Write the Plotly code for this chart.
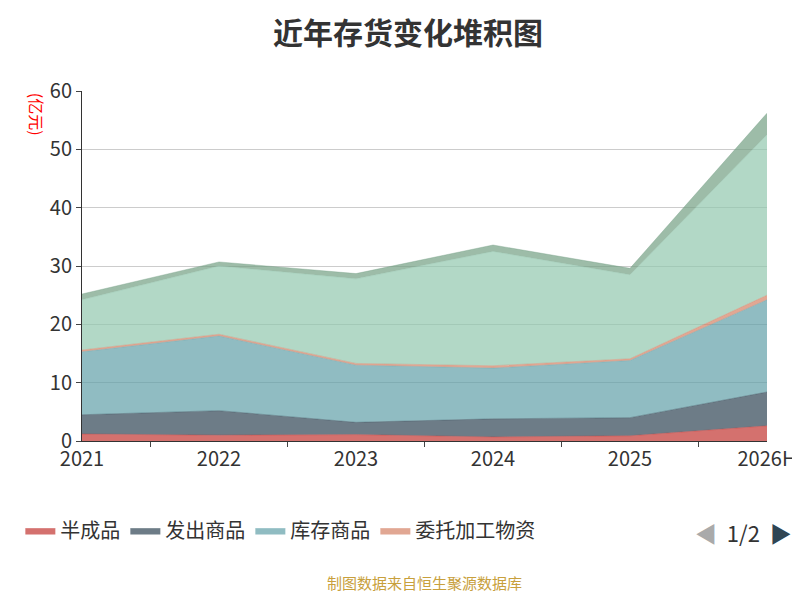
import plotly.graph_objects as go

years = ["2021", "2022", "2023", "2024", "2025", "2026H"]
banchengpin = [1.2, 1.0, 1.1, 0.7, 0.9, 2.6]
fachu = [3.3, 4.2, 2.1, 3.1, 3.1, 5.8]
kucun = [10.8, 12.8, 9.8, 8.7, 9.8, 15.8]
weituo = [0.3, 0.3, 0.3, 0.4, 0.3, 0.8]
yuancailiao = [8.6, 11.7, 14.5, 19.6, 14.4, 27.5]
qita = [1.0, 0.7, 0.9, 1.1, 1.1, 3.7]

series = [
    ("半成品", banchengpin, "rgba(194,53,49,0.7)", True),
    ("发出商品", fachu, "rgba(47,69,84,0.7)", True),
    ("库存商品", kucun, "rgba(97,160,168,0.7)", True),
    ("委托加工物资", weituo, "rgba(212,130,101,0.7)", True),
    ("原材料", yuancailiao, "rgba(145,199,174,0.7)", False),
    ("在产品", qita, "rgba(116,159,131,0.7)", False),
]

fig = go.Figure()
for name, vals, fill_c, show in series:
    fig.add_trace(go.Scatter(
        x=years, y=vals, name=name, stackgroup="one", mode="lines",
        line=dict(color=fill_c, width=0.5), fillcolor=fill_c,
        showlegend=show, legendgroup=name))

fig.update_layout(
    width=800, height=600, plot_bgcolor="white", paper_bgcolor="white",
    font=dict(family="Noto Sans CJK SC", color="#333"),
    title=dict(text="<b>近年存货变化堆积图</b>", x=0.5, y=0.975, yanchor="top",
               font=dict(size=30, color="#333")),
    margin=dict(l=62, r=30, t=83, b=167),
    xaxis=dict(showgrid=False, showline=True, linecolor="#333",
               ticks="outside", tickfont=dict(size=20), range=[0, 5],
               tickson="boundaries"),
    yaxis=dict(range=[0, 60], dtick=10, gridcolor="#ccc", showline=True,
               linecolor="#333", ticks="outside", tickfont=dict(size=20)),
    legend=dict(orientation="h", x=-0.09, y=-0.2, xanchor="left",
                yanchor="top", font=dict(size=20)),
    annotations=[
        dict(text="(亿元)", textangle=90, x=-0.085, y=1.0, yanchor="top",
             xref="paper", yref="paper",
             showarrow=False, font=dict(color="red", size=16)),
        dict(text="<span style='color:#aaa'>◀</span>  1/2  <span style='color:#2f4554'>▶</span>",
             x=1.04, y=-0.26, xref="paper", yref="paper", xanchor="right",
             yanchor="middle", showarrow=False, font=dict(size=22),
             bgcolor="white"),
        dict(text="制图数据来自恒生聚源数据库", x=0.5, y=-0.44, xref="paper",
             yref="paper", showarrow=False, font=dict(color="#c8a03c", size=15)),
    ],
)
fig.write_html("out.html")
